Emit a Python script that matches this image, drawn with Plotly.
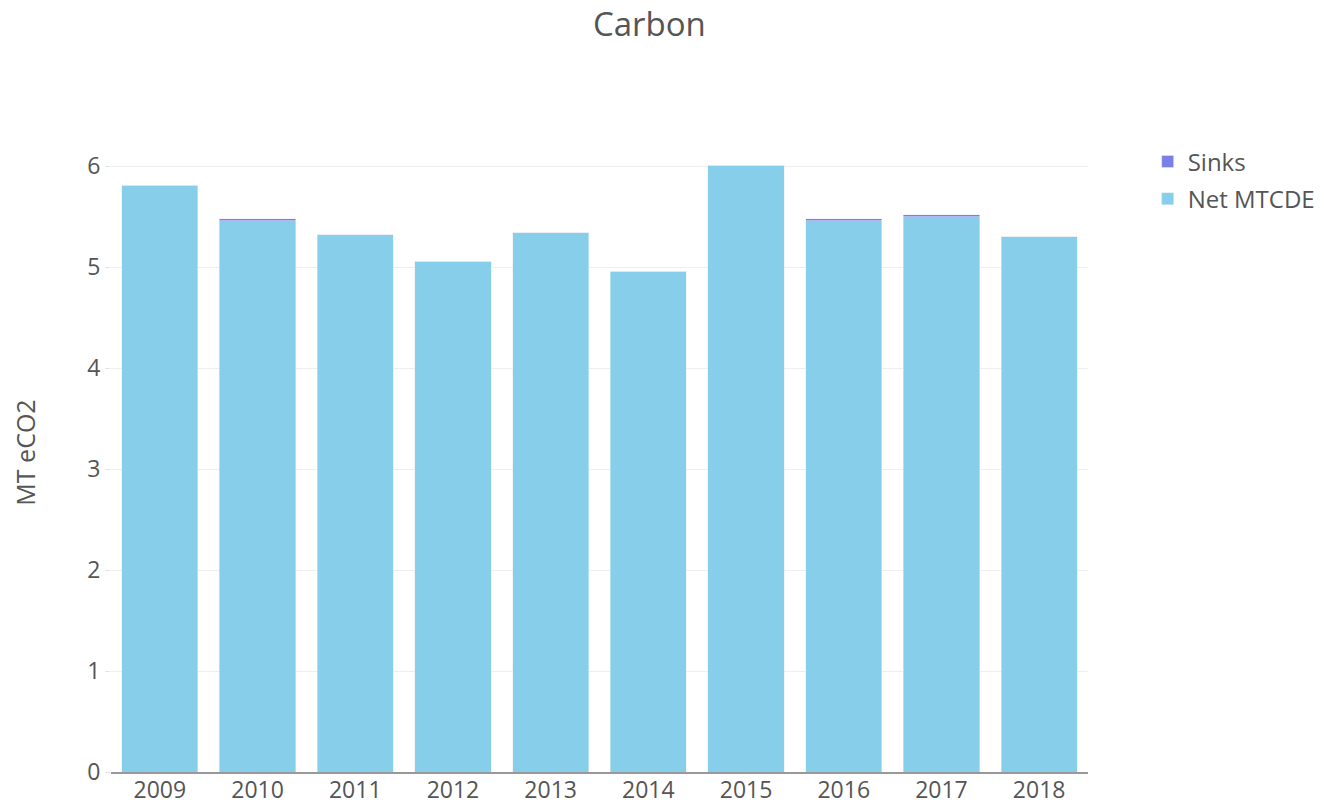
import plotly.graph_objects as go

# Yearly carbon figures (MT eCO2)
years = ['2009', '2010', '2011', '2012', '2013', '2014', '2015', '2016', '2017', '2018']
net_mtcde = [5.81, 5.46, 5.32, 5.06, 5.34, 4.96, 6.01, 5.46, 5.50, 5.30]
sinks = [0, 0.02, 0, 0, 0, 0, 0, 0.02, 0.02, 0]

fig = go.Figure()

fig.add_trace(go.Bar(
    x=years,
    y=net_mtcde,
    name='Net MTCDE',
    legendgroup='net',
    legendrank=2,
    marker_color='#87CEEB'
))

fig.add_trace(go.Bar(
    x=years,
    y=sinks,
    name='Sinks',
    legendgroup='sinks',
    legendrank=1,
    marker_color='#7B80E8'
))

# page has an 8px body margin, so margins are shifted to line up with the reference
fig.update_layout(
    barmode='stack',
    bargap=0.22,
    title=dict(text='Carbon', x=0.551, xref='paper', y=0.98, yref='container',
               yanchor='middle', font=dict(size=33, color='#555')),
    font=dict(family='Open Sans', size=23, color='#555'),
    plot_bgcolor='white',
    paper_bgcolor='white',
    width=1324,
    height=808,
    margin=dict(l=103, r=243, t=125, b=44),
    legend=dict(x=1.06, y=0.99, yanchor='top', tracegroupgap=3,
                traceorder='grouped', font=dict(size=24)),
    yaxis=dict(
        title=dict(text='MT eCO2', font=dict(size=25), standoff=48),
        range=[0, 6.33],
        gridcolor='#eee',
        zeroline=False,
        ticks='outside',
        ticklen=5,
        tickcolor='#e4e4e4'
    ),
    xaxis=dict(
        showline=True,
        linecolor='#999',
        linewidth=2,
        ticklabelstandoff=-4,
        automargin=False
    )
)

fig.write_html('out.html')
